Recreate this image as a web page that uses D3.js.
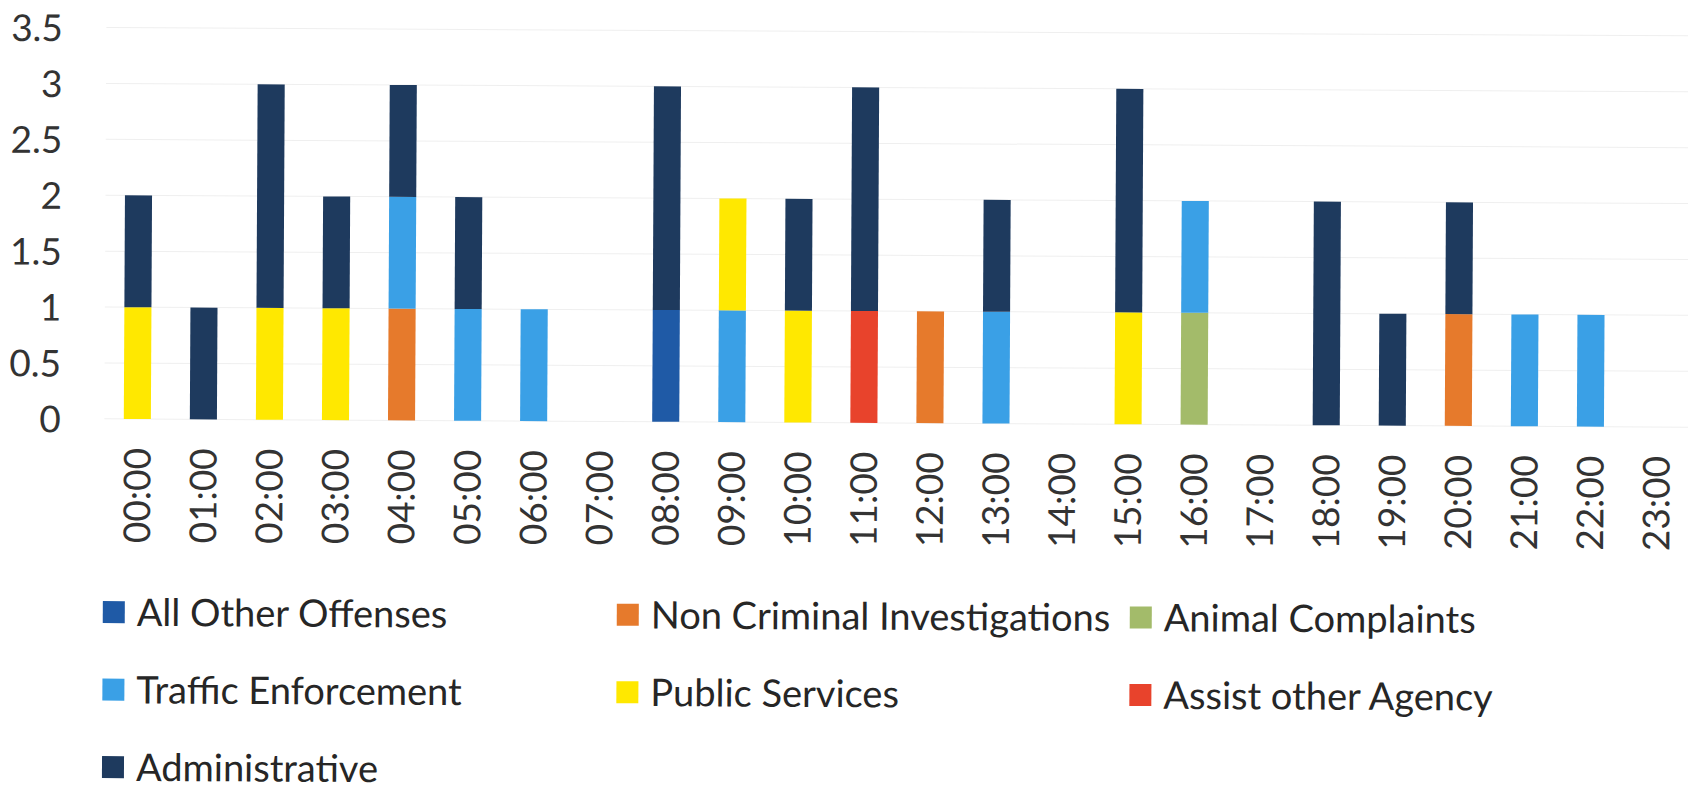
<!DOCTYPE html>
<html>
<head>
<meta charset="utf-8">
<script src="https://cdn.jsdelivr.net/npm/d3@7"></script>
<style>
  html, body { margin: 0; padding: 0; background: #ffffff; }
  svg { display: block; }
  text { font-family: Lato, "Open Sans", sans-serif; }
</style>
</head>
<body>
<svg id="chart" width="1688" height="789"></svg>
<script>
// Hour-of-day categories
const hours = ["00:00","01:00","02:00","03:00","04:00","05:00","06:00","07:00",
               "08:00","09:00","10:00","11:00","12:00","13:00","14:00","15:00",
               "16:00","17:00","18:00","19:00","20:00","21:00","22:00","23:00"];

// Calls per hour, one array per call type (stack order bottom to top)
const allOtherOffenses   = [0,0,0,0,0,0,0,0,1,0,0,0,0,0,0,0,0,0,0,0,0,0,0,0];
const nonCriminalInvest  = [0,0,0,0,1,0,0,0,0,0,0,0,1,0,0,0,0,0,0,0,1,0,0,0];
const animalComplaints   = [0,0,0,0,0,0,0,0,0,0,0,0,0,0,0,0,1,0,0,0,0,0,0,0];
const trafficEnforcement = [0,0,0,0,1,1,1,0,0,1,0,0,0,1,0,0,1,0,0,0,0,1,1,0];
const publicServices     = [1,0,1,1,0,0,0,0,0,1,1,0,0,0,0,1,0,0,0,0,0,0,0,0];
const assistOtherAgency  = [0,0,0,0,0,0,0,0,0,0,0,1,0,0,0,0,0,0,0,0,0,0,0,0];
const administrative     = [1,1,2,1,1,1,0,0,2,0,1,2,0,1,0,2,0,0,2,1,1,0,0,0];

const seriesNames = ["All Other Offenses","Non Criminal Investigations","Animal Complaints",
                     "Traffic Enforcement","Public Services","Assist other Agency","Administrative"];
const seriesValues = [allOtherOffenses, nonCriminalInvest, animalComplaints,
                      trafficEnforcement, publicServices, assistOtherAgency, administrative];
const seriesColors = ["#1f5aa6","#e67a2c","#a3bb6a","#3aa0e6","#ffe800","#e8432c","#1e3a5e"];

const yTicks = [0, 0.5, 1, 1.5, 2, 2.5, 3, 3.5];

// Layout
const W = 1688, H = 789;
const plotLeft = 106.5, plotRight = 1691.7;
const baseY = 418.3, topY = 27;

const svg = d3.select("#chart");
svg.append("rect").attr("width", W).attr("height", H).attr("fill", "#ffffff");

// whole drawing sits very slightly tilted
const g = svg.append("g").attr("transform", "rotate(0.3)");

const x = d3.scaleBand()
  .domain(hours)
  .range([plotLeft, plotRight])
  .paddingInner(0.59)
  .paddingOuter(0.295);

const y = d3.scaleLinear()
  .domain([0, 3.5])
  .range([baseY, topY]);

const color = d3.scaleOrdinal().domain(seriesNames).range(seriesColors);

// gridlines
g.append("g")
  .selectAll("line")
  .data(yTicks)
  .join("line")
  .attr("x1", plotLeft)
  .attr("x2", plotRight)
  .attr("y1", d => y(d))
  .attr("y2", d => y(d))
  .attr("stroke", "#efefef")
  .attr("stroke-width", 1);

// stacked data
const rows = hours.map((h, i) => {
  const r = { hour: h };
  seriesNames.forEach((s, k) => { r[s] = seriesValues[k][i]; });
  return r;
});
const stacked = d3.stack().keys(seriesNames)(rows);

g.append("g")
  .selectAll("g")
  .data(stacked)
  .join("g")
  .attr("fill", d => color(d.key))
  .selectAll("rect")
  .data(d => d.filter(p => p[1] - p[0] > 0))
  .join("rect")
  .attr("x", d => x(d.data.hour))
  .attr("width", x.bandwidth())
  .attr("y", d => y(d[1]))
  .attr("height", d => y(d[0]) - y(d[1]));

// y axis labels
const yAxis = g.append("g")
  .attr("transform", "translate(63,0)")
  .call(d3.axisLeft(y).tickValues(yTicks).tickFormat(d => String(d)).tickSize(0).tickPadding(0));
yAxis.select(".domain").remove();
yAxis.selectAll("text")
  .attr("font-family", "Lato, 'Open Sans', sans-serif")
  .attr("font-size", 37)
  .attr("fill", "#333333")
  .attr("dy", "0.36em");

// x axis labels, vertical
const xAxis = g.append("g")
  .attr("transform", `translate(0,${baseY})`)
  .call(d3.axisBottom(x).tickSize(0).tickPadding(0));
xAxis.select(".domain").remove();
xAxis.selectAll("text")
  .attr("font-family", "Lato, 'Open Sans', sans-serif")
  .attr("font-size", 37)
  .attr("fill", "#333333")
  .attr("transform", "rotate(-90)")
  .attr("text-anchor", "end")
  .attr("x", -29)
  .attr("y", 0)
  .attr("dy", "0.36em");

// legend: three columns, three rows
const legendCols = [106, 620, 1133];
const legendTop = 600.5, legendRowStep = 77.5, swatch = 22;
const legend = g.append("g")
  .selectAll("g")
  .data(seriesNames)
  .join("g")
  .attr("transform", (d, i) => `translate(${legendCols[i % 3]},${legendTop + Math.floor(i / 3) * legendRowStep})`);
legend.append("rect")
  .attr("width", swatch)
  .attr("height", swatch)
  .attr("fill", d => color(d));
legend.append("text")
  .attr("x", 34)
  .attr("y", swatch / 2)
  .attr("dy", "0.36em")
  .attr("font-size", 38)
  .attr("fill", "#262626")
  .text(d => d);
</script>
</body>
</html>
